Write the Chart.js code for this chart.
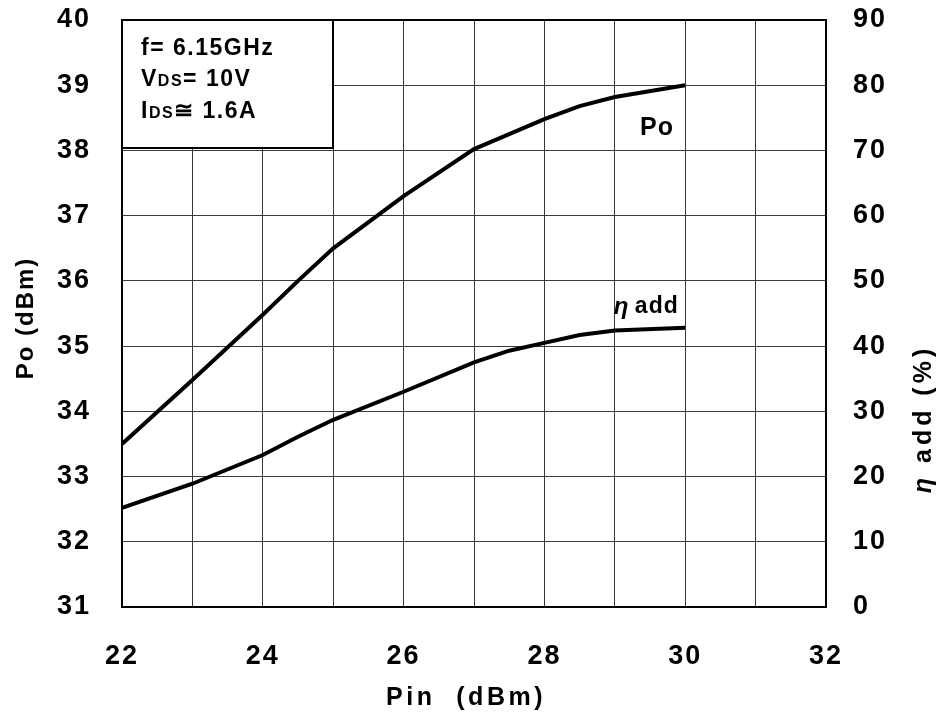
<!DOCTYPE html>
<html>
<head>
<meta charset="utf-8">
<script src="https://cdn.jsdelivr.net/npm/chart.js@4/dist/chart.umd.min.js"></script>
<style>
  html, body { margin: 0; padding: 0; background: #fff; }
  #wrap { width: 941px; height: 716px; }
</style>
</head>
<body>
<div id="wrap"><canvas id="c" width="941" height="716"></canvas></div>
<script>
// ---- data ----
const pinDbm = [22, 23, 24, 24.5, 25, 26, 27, 27.5, 28, 28.5, 29, 30];
const poDbm = [33.5, 34.48, 35.48, 36.0, 36.5, 37.3, 38.02, 38.25, 38.48, 38.68, 38.82, 39.0];
const etaAdd = [15.2, 18.9, 23.3, 26.1, 28.7, 33.0, 37.5, 39.3, 40.5, 41.7, 42.4, 42.8];
const xTicks = [22, 24, 26, 28, 30, 32];
const leftTicks = [31, 32, 33, 34, 35, 36, 37, 38, 39, 40];
const rightTicks = [0, 10, 20, 30, 40, 50, 60, 70, 80, 90];
const infoLines = [
  ["f= 6.15GHz"],
  ["V", "DS", "= 10V"],
  ["I", "DS", "\u2245 1.6A"]
];
const xTitle = "Pin  (dBm)";
const yTitle = "Po (dBm)";
const y2TitleEta = "\u03b7";
const y2TitleRest = " add (%)";

const FONT = "'Liberation Sans', Arial, sans-serif";

const spacing = {
  id: 'spacing',
  beforeDraw(chart) { chart.ctx.letterSpacing = '2px'; },
  afterDraw(chart) { chart.ctx.letterSpacing = '0px'; }
};

const overlay = {
  id: 'overlay',
  afterDraw(chart) {
    const ctx = chart.ctx;
    const a = chart.chartArea;
    const xs = chart.scales.x, yl = chart.scales.y;
    ctx.save();
    ctx.letterSpacing = '0px';
    // frame
    ctx.strokeStyle = '#000';
    ctx.lineWidth = 2;
    ctx.strokeRect(a.left, a.top, a.right - a.left, a.bottom - a.top);

    // info box
    const bx = a.left, by = a.top, bw = 211, bh = 128;
    ctx.fillStyle = '#fff';
    ctx.fillRect(bx, by, bw, bh);
    ctx.strokeRect(bx, by, bw, bh);
    ctx.fillStyle = '#000';
    ctx.textBaseline = 'alphabetic';
    ctx.textAlign = 'left';
    ctx.letterSpacing = '1.5px';
    const base = [55, 86, 118];
    infoLines.forEach((parts, i) => {
      let x = bx + 19;
      parts.forEach((p, j) => {
        const small = parts.length === 3 && j === 1;
        ctx.font = 'bold ' + (small ? 16 : 23) + 'px ' + FONT;
        ctx.fillText(p, x, base[i]);
        x += ctx.measureText(p).width;
      });
    });
    ctx.letterSpacing = '0px';

    // curve labels
    ctx.font = 'bold 25px ' + FONT;
    ctx.textBaseline = 'middle';
    ctx.textAlign = 'center';
    ctx.letterSpacing = '1px';
    ctx.fillText('Po', xs.getPixelForValue(29.6), yl.getPixelForValue(38.35));
    // eta add label
    const ex = xs.getPixelForValue(29.1), ey = yl.getPixelForValue(35.6);
    ctx.textAlign = 'left';
    ctx.font = 'italic bold 24px ' + FONT;
    ctx.fillText('\u03b7', ex - 8, ey);
    ctx.font = 'bold 23px ' + FONT;
    ctx.fillText('add', ex + 13, ey);

    // x axis title
    ctx.textAlign = 'center';
    ctx.textBaseline = 'middle';
    ctx.font = 'bold 25px ' + FONT;
    ctx.letterSpacing = '3.5px';
    ctx.fillText(xTitle, 466, 698);

    // left axis title
    ctx.save();
    ctx.translate(26, 318);
    ctx.rotate(-Math.PI / 2);
    ctx.font = 'bold 24px ' + FONT;
    ctx.letterSpacing = '2px';
    ctx.fillText(yTitle, 0, 0);
    ctx.restore();

    // right axis title (reads bottom to top)
    ctx.translate(924, 419);
    ctx.rotate(-Math.PI / 2);
    ctx.textAlign = 'left';
    ctx.textBaseline = 'middle';
    ctx.letterSpacing = '4px';
    ctx.font = 'italic bold 25px ' + FONT;
    const w1 = ctx.measureText(y2TitleEta).width;
    ctx.font = 'bold 25px ' + FONT;
    const w2 = ctx.measureText(y2TitleRest).width;
    const start = -(w1 + w2) / 2;
    ctx.font = 'italic bold 25px ' + FONT;
    ctx.fillText(y2TitleEta, start, 0);
    ctx.font = 'bold 25px ' + FONT;
    ctx.fillText(y2TitleRest, start + w1, 0);
    ctx.restore();
  }
};

const toPts = (xsArr, ysArr) => xsArr.map((x, i) => ({ x: x, y: ysArr[i] }));
const noPadV = s => { s.paddingTop = 0; s.paddingBottom = 0; };

new Chart(document.getElementById('c'), {
  type: 'line',
  data: {
    datasets: [
      { label: 'Po', data: toPts(pinDbm, poDbm), yAxisID: 'y', borderColor: '#000', borderWidth: 4, pointRadius: 0, tension: 0, fill: false },
      { label: '\u03b7add', data: toPts(pinDbm, etaAdd), yAxisID: 'y2', borderColor: '#000', borderWidth: 4, pointRadius: 0, tension: 0, fill: false }
    ]
  },
  options: {
    responsive: false,
    animation: false,
    layout: { padding: { top: 20, left: 0, right: 0, bottom: 0 } },
    plugins: { legend: { display: false }, tooltip: { enabled: false } },
    scales: {
      x: {
        type: 'linear', min: 22, max: 32,
        afterBuildTicks(s) { s.ticks = []; for (let v = 22; v <= 32; v++) s.ticks.push({ value: v }); },
        afterFit(s) { s.height = 109; s.paddingLeft = 0; s.paddingRight = 0; },
        ticks: {
          autoSkip: false, maxRotation: 0, padding: 33, color: '#000',
          font: { family: FONT, size: 27, weight: 'bold' },
          callback: v => xTicks.includes(v) ? String(v) : ''
        },
        grid: { color: '#3a3a3a', lineWidth: 1, drawTicks: false },
        border: { color: '#000', width: 2 },
        title: { display: false }
      },
      y: {
        position: 'left', min: 31, max: 40,
        afterBuildTicks(s) { s.ticks = leftTicks.map(v => ({ value: v })); },
        afterFit(s) { s.width = 122; noPadV(s); },
        ticks: { padding: 31, color: '#000', font: { family: FONT, size: 27, weight: 'bold' } },
        grid: { color: '#3a3a3a', lineWidth: 1, drawTicks: false },
        border: { color: '#000', width: 2 },
        title: { display: false }
      },
      y2: {
        position: 'right', min: 0, max: 90,
        afterBuildTicks(s) { s.ticks = rightTicks.map(v => ({ value: v })); },
        afterFit(s) { s.width = 115; noPadV(s); },
        ticks: { padding: 27, color: '#000', font: { family: FONT, size: 27, weight: 'bold' } },
        grid: { drawOnChartArea: false, drawTicks: false },
        border: { color: '#000', width: 2 }
      }
    }
  },
  plugins: [spacing, overlay]
});
</script>
</body>
</html>
